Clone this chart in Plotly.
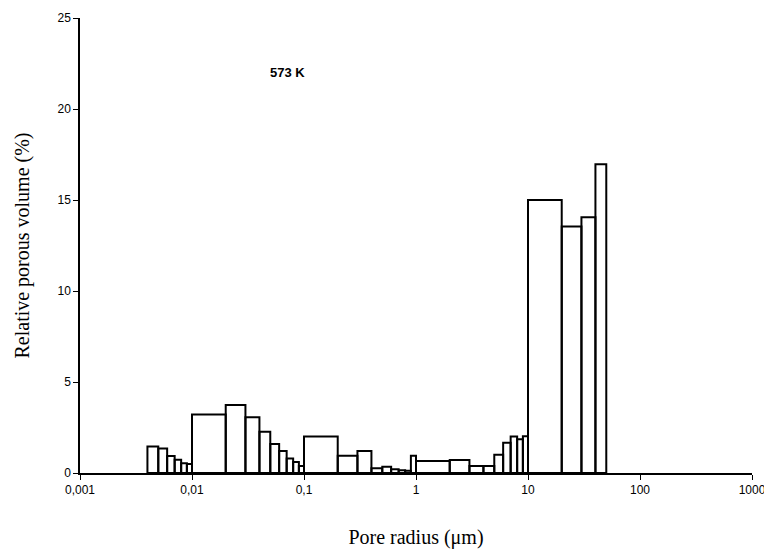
import plotly.graph_objects as go

# bin edges of pore radius (um) and relative porous volume (%) per bin
bin_lo = [0.004, 0.005, 0.006, 0.007, 0.008, 0.009, 0.01, 0.02, 0.03, 0.04,
          0.05, 0.06, 0.07, 0.08, 0.09, 0.1, 0.2, 0.3, 0.4, 0.5,
          0.6, 0.7, 0.8, 0.9, 1, 2, 3, 4, 5, 6,
          7, 8, 9, 10, 20, 30, 40]
bin_hi = [0.005, 0.006, 0.007, 0.008, 0.009, 0.01, 0.02, 0.03, 0.04, 0.05,
          0.06, 0.07, 0.08, 0.09, 0.1, 0.2, 0.3, 0.4, 0.5, 0.6,
          0.7, 0.8, 0.9, 1, 2, 3, 4, 5, 6, 7,
          8, 9, 10, 20, 30, 40, 50]
volume = [1.45, 1.35, 0.93, 0.73, 0.53, 0.5, 3.22, 3.74, 3.06, 2.27,
          1.6, 1.21, 0.79, 0.6, 0.38, 2.0, 0.95, 1.21, 0.26, 0.35,
          0.2, 0.15, 0.12, 0.95, 0.66, 0.71, 0.38, 0.38, 1.0, 1.66,
          2.0, 1.86, 2.02, 15.0, 13.55, 14.05, 16.97]

x_ticks = [0.001, 0.01, 0.1, 1, 10, 100, 1000]
x_tick_text = ["0,001", "0,01", "0,1", "1", "10", "100", "1000"]
y_ticks = [0, 5, 10, 15, 20, 25]

# build outlined rectangles, one per bin
xs, ys = [], []
for lo, hi, v in zip(bin_lo, bin_hi, volume):
    xs += [lo, lo, hi, hi, lo, None]
    ys += [0, v, v, 0, 0, None]

fig = go.Figure()
fig.add_trace(
    go.Scatter(
        x=xs, y=ys, mode="lines", fill="toself", fillcolor="white",
        line=dict(color="black", width=2), hoverinfo="skip", showlegend=False,
    )
)

tick_font = dict(family="Liberation Sans Narrow, Arial Narrow, Arial", size=12, color="black")
title_font = dict(family="Liberation Serif, Times New Roman, serif", size=20, color="black")

fig.update_xaxes(
    type="log", range=[-3, 3], tickvals=x_ticks, ticktext=x_tick_text,
    showgrid=False, zeroline=False, showline=True, linecolor="black", linewidth=1.5,
    ticks="outside", ticklen=5, tickcolor="black", tickfont=tick_font, automargin=False,
    ticklabeloverflow="allow",
    title=dict(text="Pore radius (μm)", font=title_font, standoff=44),
)
fig.update_yaxes(
    range=[0, 25], tickvals=y_ticks,
    showgrid=False, zeroline=False, showline=True, linecolor="black", linewidth=1.5,
    ticks="outside", ticklen=5, tickcolor="black", tickfont=tick_font, automargin=False,
    title=dict(text="Relative porous volume (%)", font=title_font, standoff=22),
)

fig.add_annotation(
    x=-1.15, y=22, text="<b>573 K</b>", showarrow=False,
    font=dict(family="Liberation Sans Narrow, Arial Narrow, Arial", size=13, color="black"),
)

# page body adds an 8px offset, so size the figure to fit the window
fig.update_layout(
    width=756, height=541,
    margin=dict(l=72, r=12, t=10, b=76),
    plot_bgcolor="white", paper_bgcolor="white",
)

fig.write_html("out.html")
